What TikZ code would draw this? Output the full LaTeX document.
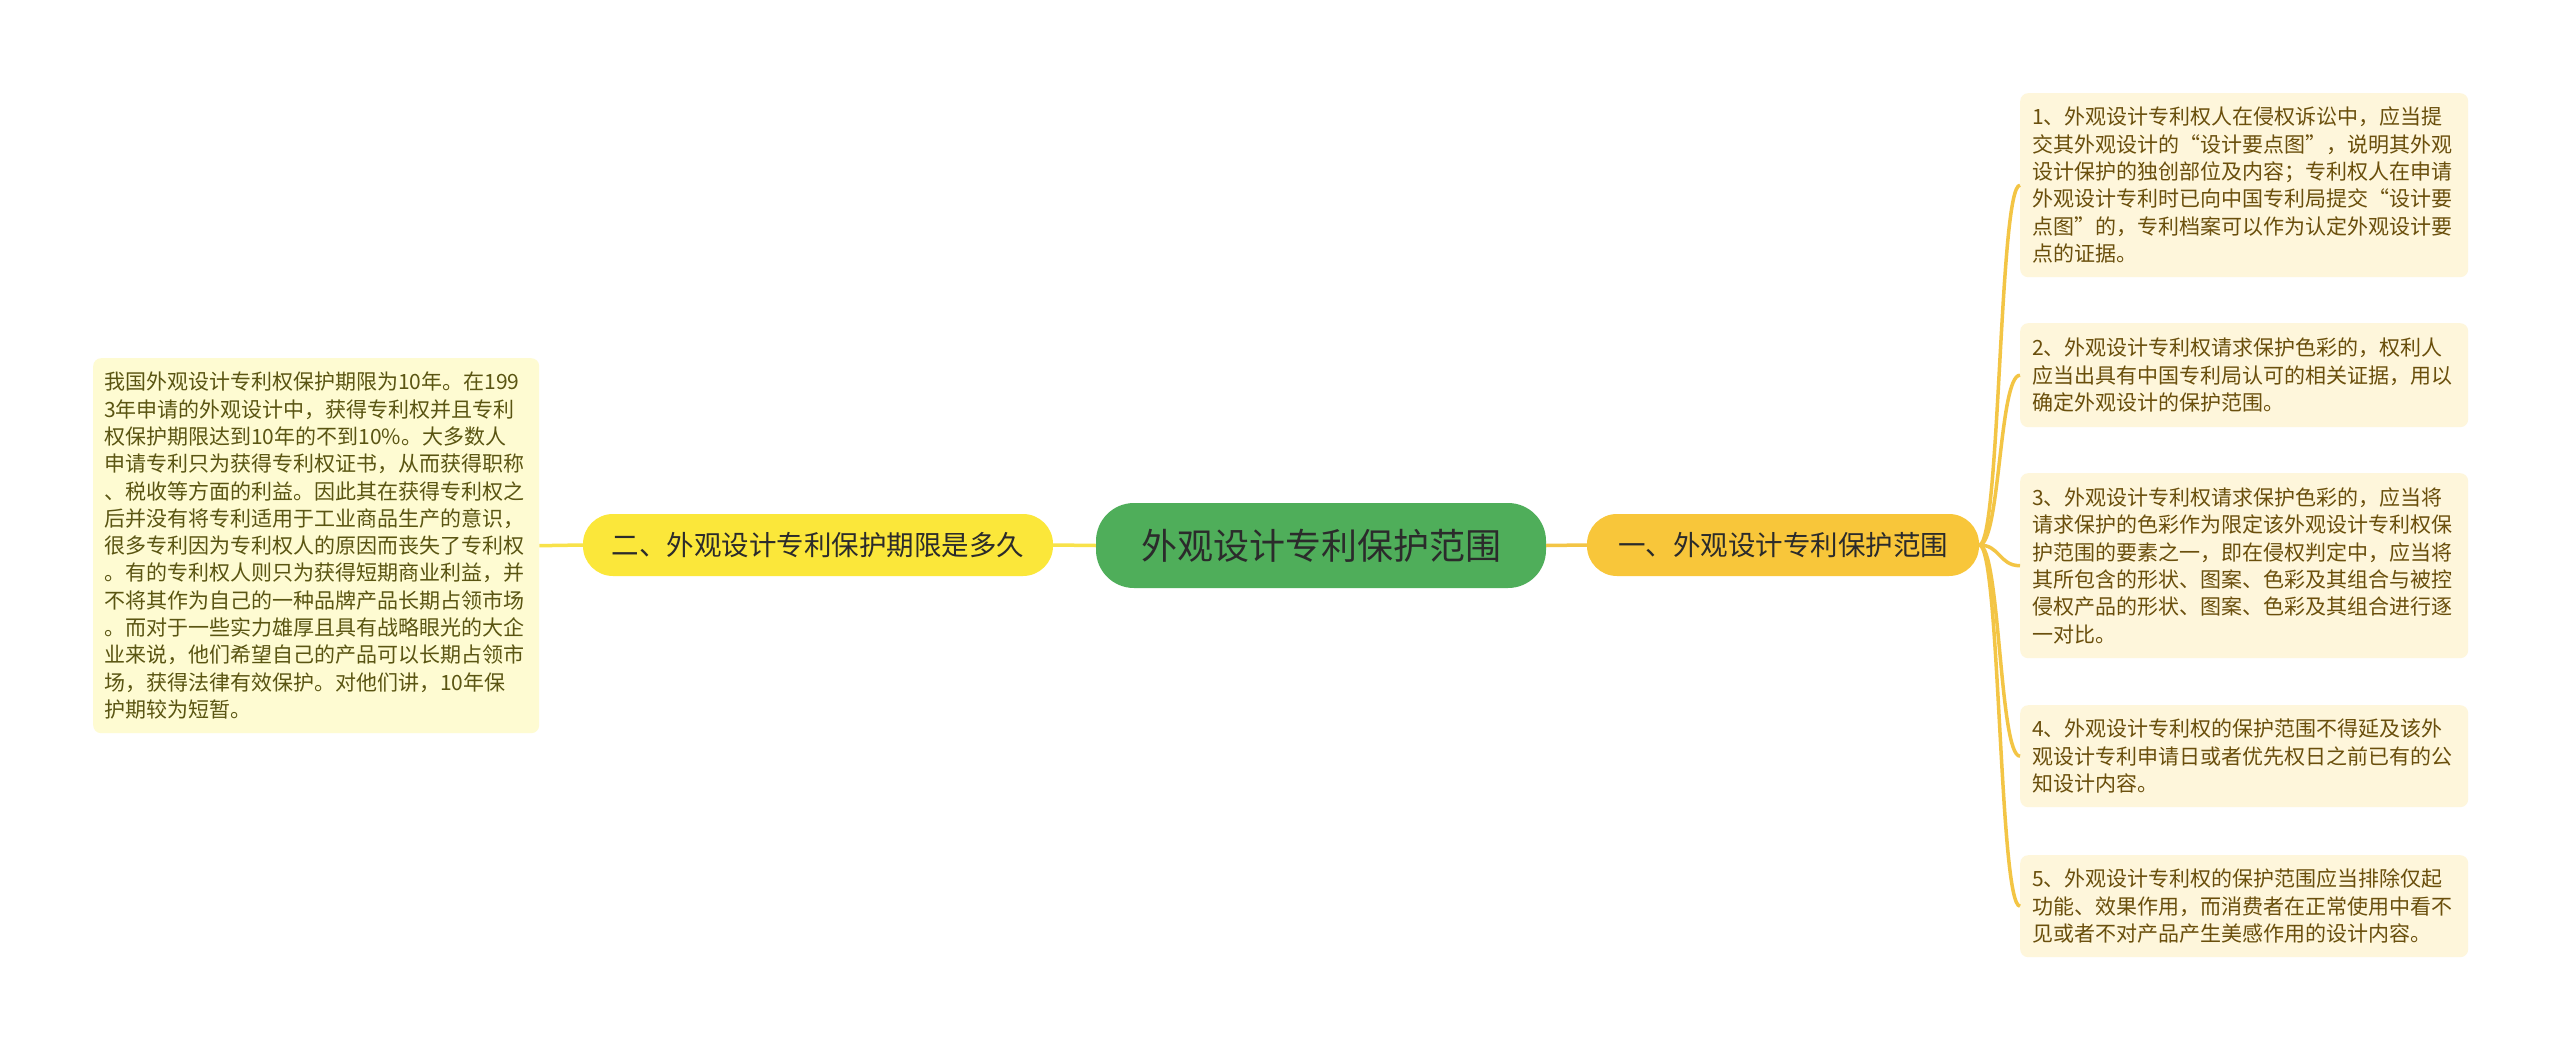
\documentclass[tikz,border=0pt]{standalone}
\usepackage{fontspec}
\setmainfont{Noto Sans CJK SC}
\usetikzlibrary{calc}
\definecolor{cgreen}{HTML}{4FAE5A}
\definecolor{corange}{HTML}{F8C63A}
\definecolor{cyellow}{HTML}{FBE73A}
\definecolor{leafR}{HTML}{FEF6DB}
\definecolor{leafL}{HTML}{FEFBD2}
\definecolor{txtR}{HTML}{6A4F0C}
\definecolor{txtL}{HTML}{5A5512}
\definecolor{lineR}{HTML}{F3C545}
\definecolor{lineL}{HTML}{F8E24A}
\definecolor{txtMain}{HTML}{2B2B2B}
\begin{document}
\begin{tikzpicture}[x=1pt,y=-1pt,
  centerbox/.style={fill=cgreen, rounded corners=38pt, minimum width=450pt, minimum height=85pt, inner sep=0pt, font=\fontsize{36}{40}\selectfont, text=txtMain},
  branchR/.style={fill=corange, rounded corners=30pt, minimum width=392pt, minimum height=62pt, inner sep=0pt, font=\fontsize{27.5}{30}\selectfont, text=txtMain},
  branchL/.style={fill=cyellow, rounded corners=30pt, minimum width=470pt, minimum height=62pt, inner sep=0pt, font=\fontsize{27.5}{30}\selectfont, text=txtMain},
  leafr/.style={fill=leafR, rounded corners=8pt, text width=424pt, inner xsep=12pt, inner ysep=0pt, align=left, anchor=north west, font=\fontsize{21}{27.4}\selectfont, text=txtR},
  leafl/.style={fill=leafL, rounded corners=8pt, text width=424pt, inner xsep=11pt, inner ysep=0pt, align=left, anchor=north west, font=\fontsize{21}{27.3}\selectfont, text=txtL},
  conR/.style={draw=lineR, line width=3.5pt},
  conL/.style={draw=lineL, line width=3.5pt}
]
\fill[white] (0,0) rectangle (2560,1049);
\useasboundingbox (0,0) rectangle (2560,1049);

\node[centerbox] (c) at (1321,545.5) {外观设计专利保护范围};
\node[branchR] (r) at (1783,545) {一、外观设计专利保护范围};
\node[branchL] (l) at (818,545) {二、外观设计专利保护期限是多久};

\node[leafl, minimum height=375pt] (l1) at (93,358) {我国外观设计专利权保护期限为10年。在199\\3年申请的外观设计中，获得专利权并且专利\\权保护期限达到10年的不到10\%。大多数人\\申请专利只为获得专利权证书，从而获得职称\\、税收等方面的利益。因此其在获得专利权之\\后并没有将专利适用于工业商品生产的意识，\\很多专利因为专利权人的原因而丧失了专利权\\。有的专利权人则只为获得短期商业利益，并\\不将其作为自己的一种品牌产品长期占领市场\\。而对于一些实力雄厚且具有战略眼光的大企\\业来说，他们希望自己的产品可以长期占领市\\场，获得法律有效保护。对他们讲，10年保\\护期较为短暂。};

\node[leafr, minimum height=184pt] (r1) at (2020,93) {1、外观设计专利权人在侵权诉讼中，应当提\\交其外观设计的“设计要点图”，说明其外观\\设计保护的独创部位及内容；专利权人在申请\\外观设计专利时已向中国专利局提交“设计要\\点图”的，专利档案可以作为认定外观设计要\\点的证据。};
\node[leafr, minimum height=104pt] (r2) at (2020,323) {2、外观设计专利权请求保护色彩的，权利人\\应当出具有中国专利局认可的相关证据，用以\\确定外观设计的保护范围。};
\node[leafr, minimum height=185pt] (r3) at (2020,473) {3、外观设计专利权请求保护色彩的，应当将\\请求保护的色彩作为限定该外观设计专利权保\\护范围的要素之一，即在侵权判定中，应当将\\其所包含的形状、图案、色彩及其组合与被控\\侵权产品的形状、图案、色彩及其组合进行逐\\一对比。};
\node[leafr, minimum height=102pt] (r4) at (2020,705) {4、外观设计专利权的保护范围不得延及该外\\观设计专利申请日或者优先权日之前已有的公\\知设计内容。};
\node[leafr, minimum height=102pt] (r5) at (2020,855) {5、外观设计专利权的保护范围应当排除仅起\\功能、效果作用，而消费者在正常使用中看不\\见或者不对产品产生美感作用的设计内容。};

\draw[conR] (c.east) -- (r.west);
\draw[conL] (c.west) -- (l.east);
\draw[conL] (l.west) -- (l1.east);
\foreach \k in {r1,r2,r3,r4,r5}{
  \draw[conR] (r.east) .. controls +(21,0) and +(-21,0) .. (\k.west);
}
\end{tikzpicture}
\end{document}
